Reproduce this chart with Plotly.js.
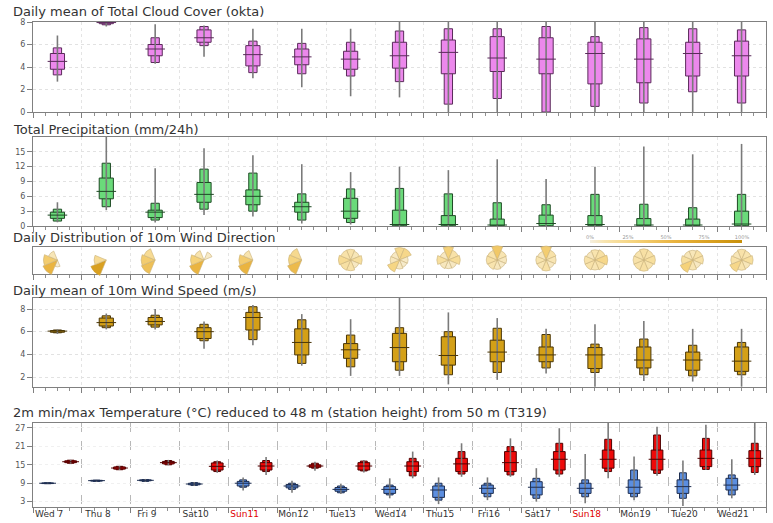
<!DOCTYPE html>
<html>
<head>
<meta charset="utf-8">
<script src="https://cdn.plot.ly/plotly-3.0.1.min.js"></script>
<style>html,body{margin:0;padding:0;background:#fff;}#chart{width:773px;height:523px;}</style>
</head>
<body>
<div id="chart"></div>
<script>
// ---------- DATA ----------
const days = ['Wed 7','Thu 8','Fri 9','Sat10','Sun11','Mon12','Tue13','Wed14','Thu15','Fri16','Sat17','Sun18','Mon19','Tue20','Wed21'];
const sundays = ['Sun11','Sun18'];

// Total cloud cover (okta): min, p10, p25, median, p75, p90, max
const cloudMin = [2.7, 7.6, 4.3, 4.9, 3.0, 2.2, 1.4, 1.3, 0, 0, 0, 0, 0, 0, 0];
const cloudP10 = [3.3, 7.75, 4.4, 5.9, 3.5, 3.4, 3.2, 2.7, 0.7, 1.2, 0, 0.5, 0.8, 1.8, 0.8];
const cloudP25 = [3.8, 7.85, 5.0, 6.2, 4.1, 4.2, 3.8, 3.9, 3.4, 3.6, 3.4, 2.5, 2.6, 3.2, 3.2];
const cloudMed = [4.5, 7.95, 5.6, 6.6, 5.1, 4.9, 4.7, 5.0, 5.3, 4.8, 4.7, 5.2, 4.7, 5.2, 5.0];
const cloudP75 = [5.2, 8.0, 6.0, 7.3, 5.9, 5.6, 5.4, 6.2, 6.4, 6.7, 6.6, 6.2, 6.5, 6.2, 6.3];
const cloudP90 = [5.7, 8.0, 6.6, 7.6, 6.3, 6.1, 6.2, 7.2, 7.4, 7.4, 7.6, 6.7, 7.5, 7.4, 7.3];
const cloudMax = [6.8, 8.0, 7.8, 7.7, 7.4, 7.4, 7.4, 8.0, 8.0, 8.0, 8.0, 8.0, 8.0, 8.0, 8.0];

// Total precipitation (mm/24h)
const precMin = [0.75, 3.2, 0.7, 2.2, 1.9, 0.5, 0.3, 0, 0, 0, 0, 0, 0, 0, 0];
const precP10 = [1.0, 3.9, 1.2, 3.4, 3.0, 1.2, 0.7, 0, 0, 0, 0, 0, 0, 0, 0];
const precP25 = [1.55, 5.5, 1.7, 4.8, 4.3, 2.8, 1.55, 0.05, 0.05, 0.05, 0.05, 0.05, 0.05, 0.05, 0.05];
const precMed = [2.2, 7.0, 2.8, 6.4, 6.0, 3.9, 3.0, 0.3, 0.3, 0.2, 0.5, 0.3, 0.2, 0.2, 0.4];
const precP75 = [2.8, 9.7, 3.2, 8.8, 7.3, 4.8, 5.6, 3.2, 2.1, 1.4, 2.2, 2.1, 1.5, 1.4, 3.0];
const precP90 = [3.4, 12.7, 4.6, 11.5, 10.7, 6.5, 7.5, 7.6, 6.5, 4.7, 4.3, 6.4, 4.4, 3.7, 6.4];
const precMax = [4.8, 18.0, 11.7, 15.7, 14.3, 12.5, 10.9, 12.0, 11.3, 13.5, 9.5, 12.0, 16.1, 14.5, 16.6];

// 10m wind direction frequency (%) per sector: N, NE, E, SE, S, SW, W, NW
const dirNames = [0, 45, 90, 135, 180, 225, 270, 315];
const windDir = [
  [0, 0, 0, 0, 2, 55, 35, 8],
  [0, 0, 0, 0, 0, 80, 20, 0],
  [0, 0, 0, 0, 0, 45, 35, 20],
  [0, 5, 0, 0, 0, 55, 30, 10],
  [0, 0, 0, 0, 0, 55, 35, 10],
  [0, 0, 0, 0, 0, 50, 28, 22],
  [12, 8, 16, 6, 12, 14, 20, 12],
  [22, 24, 5, 4, 6, 26, 7, 6],
  [30, 12, 18, 6, 5, 7, 16, 6],
  [38, 9, 7, 5, 7, 10, 13, 11],
  [34, 12, 9, 6, 13, 9, 10, 7],
  [10, 14, 24, 12, 9, 12, 12, 7],
  [14, 12, 16, 10, 14, 12, 12, 10],
  [8, 12, 12, 6, 9, 30, 15, 8],
  [12, 10, 16, 8, 10, 24, 12, 8]
];
const pctTicks = [0, 25, 50, 75, 100];
const pctLabels = ['0%', '25%', '50%', '75%', '100%'];

// 10m wind speed (m/s)
const windMin = [5.8, 6.2, 6.2, 4.5, 4.8, 3.0, 2.1, 2.1, 1.35, 1.75, 2.3, 1.15, 1.65, 1.6, 1.15];
const windP10 = [5.9, 6.35, 6.4, 5.2, 5.3, 3.2, 2.9, 2.6, 2.2, 2.4, 2.8, 2.4, 2.2, 2.1, 2.2];
const windP25 = [5.95, 6.5, 6.6, 5.4, 6.15, 3.95, 3.65, 3.35, 3.05, 3.35, 3.35, 2.75, 2.8, 2.6, 2.5];
const windMed = [6.05, 6.8, 6.9, 6.0, 7.25, 5.05, 4.4, 4.6, 3.9, 4.2, 3.95, 3.95, 3.5, 3.5, 3.4];
const windP75 = [6.1, 7.2, 7.25, 6.35, 7.7, 6.25, 4.95, 5.85, 5.55, 5.25, 4.65, 4.6, 4.65, 4.2, 4.65];
const windP90 = [6.15, 7.4, 7.45, 6.65, 8.2, 7.05, 5.7, 6.35, 6.0, 6.3, 5.75, 4.9, 5.35, 4.8, 5.05];
const windMax = [6.2, 7.6, 8.0, 6.9, 8.35, 7.55, 7.1, 9.0, 7.7, 7.2, 6.25, 6.65, 6.95, 6.25, 6.25];

// 2m minimum temperature (°C)
const tminMin = [8.8, 9.5, 9.5, 8.1, 6.6, 5.9, 5.5, 4.1, 2.2, 3.5, 3.0, 2.5, 3.5, 1.6, 4.1];
const tminP10 = [8.85, 9.6, 9.6, 8.3, 7.7, 7.0, 5.9, 5.2, 3.5, 4.6, 4.1, 4.6, 4.6, 4.1, 5.2];
const tminP25 = [8.9, 9.7, 9.8, 8.5, 8.1, 7.5, 6.4, 5.7, 4.4, 5.7, 5.2, 5.7, 5.7, 5.7, 6.8];
const tminMed = [9.0, 9.85, 9.95, 8.75, 9.0, 8.1, 7.0, 7.0, 6.8, 7.35, 7.7, 7.35, 7.7, 7.9, 8.4];
const tminP75 = [9.1, 9.95, 10.1, 9.0, 9.6, 8.6, 7.6, 7.9, 8.1, 8.4, 9.5, 9.0, 10.1, 10.1, 10.6];
const tminP90 = [9.15, 10.0, 10.2, 9.2, 10.1, 9.0, 8.1, 8.4, 9.0, 9.0, 10.6, 10.1, 13.3, 12.4, 11.7];
const tminMax = [9.2, 10.1, 10.4, 9.4, 10.9, 9.8, 8.8, 10.6, 10.9, 10.9, 13.9, 18.5, 17.7, 16.4, 16.8];

// 2m maximum temperature (°C)
const tmaxMin = [15.4, 13.3, 14.9, 12.4, 11.7, 13.1, 12.5, 10.6, 11.1, 11.1, 11.1, 10.6, 11.4, 13.3, 11.7];
const tmaxP10 = [15.5, 13.4, 15.0, 12.8, 12.8, 13.9, 13.0, 11.4, 12.0, 11.7, 12.0, 12.8, 12.2, 13.5, 12.5];
const tmaxP25 = [15.7, 13.6, 15.3, 13.3, 13.3, 14.2, 13.3, 12.8, 12.8, 12.8, 13.3, 13.9, 13.3, 14.4, 14.4];
const tmaxMed = [16.0, 13.95, 15.7, 14.5, 14.6, 14.6, 14.6, 14.6, 15.3, 15.7, 16.8, 16.8, 16.8, 17.1, 17.1];
const tmaxP75 = [16.3, 14.3, 16.1, 15.6, 15.7, 15.0, 15.7, 16.0, 17.1, 19.3, 19.3, 19.8, 19.8, 19.8, 19.6];
const tmaxP90 = [16.5, 14.5, 16.4, 16.0, 16.4, 15.5, 16.2, 17.1, 19.3, 20.9, 22.0, 23.3, 24.7, 23.6, 22.0];
const tmaxMax = [16.6, 14.6, 16.6, 16.4, 17.5, 16.0, 16.6, 19.3, 22.0, 23.6, 26.9, 28.7, 27.4, 28.0, 28.7];

// y-axis tick values
const cloudTicks = [0, 2, 4, 6, 8];
const precTicks = [0, 3, 6, 9, 12, 15];
const windTicks = [2, 4, 6, 8];
const tempTicks = [3, 9, 15, 21, 27];

// ---------- BUILD ----------
const FONT = 'DejaVu Sans, Verdana, sans-serif';
const dayIdx = days.map((d, i) => i);
const centerPos = dayIdx.map(i => i + 0.5);
const minPos = dayIdx.map(i => i + 0.3);
const maxPos = dayIdx.map(i => i + 0.77);

function boxTraces(xa, ya, pos, mn, p10, p25, med, p75, p90, mx, fill, edge, wN, wW, medSize) {
  const wx = [], wy = [];
  pos.forEach((p, i) => { wx.push(p, p, null); wy.push(mn[i], mx[i], null); });
  return [
    {type: 'scatter', mode: 'lines', x: wx, y: wy, xaxis: xa, yaxis: ya,
     line: {color: '#7a7a7a', width: 1.6}, hoverinfo: 'skip', cliponaxis: true},
    {type: 'bar', x: pos, base: p10, y: p90.map((v, i) => v - p10[i]), width: wN, xaxis: xa, yaxis: ya,
     marker: {color: fill, line: {color: edge, width: 1}}, hoverinfo: 'skip'},
    {type: 'bar', x: pos, base: p25, y: p75.map((v, i) => v - p25[i]), width: wW, xaxis: xa, yaxis: ya,
     marker: {color: fill, line: {color: edge, width: 1}}, hoverinfo: 'skip'},
    {type: 'scatter', mode: 'markers', x: pos, y: med, xaxis: xa, yaxis: ya,
     marker: {symbol: 'line-ew', size: medSize, line: {color: edge, width: 1}}, hoverinfo: 'skip', cliponaxis: true}
  ];
}

const W = 773, H = 523, ML = 33, MR = 7, MT = 22, MB = 16;
const PW = W - ML - MR, PH = H - MT - MB;
const py = (px) => (H - MB - px) / PH; // pixel y -> paper
const pxX = (px) => (px - ML) / PW;   // pixel x -> paper

let traces = [];
traces = traces.concat(boxTraces('x', 'y', centerPos, cloudMin, cloudP10, cloudP25, cloudMed, cloudP75, cloudP90, cloudMax, '#ec88ec', '#5a2a5a', 0.17, 0.29, 14));
traces = traces.concat(boxTraces('x2', 'y2', centerPos, precMin, precP10, precP25, precMed, precP75, precP90, precMax, '#6ada7a', '#1e4a24', 0.17, 0.29, 14));
// wind direction panel axes + percentage labels of the colour key (invisible marker)
traces.push({type: 'scatter', mode: 'markers', x: [null], y: [null], xaxis: 'x3', yaxis: 'y3', hoverinfo: 'skip',
  marker: {color: [0], cmin: 0, cmax: 100, opacity: 0, colorscale: [[0, 'rgba(255,255,255,0)'], [1, 'rgba(255,255,255,0)']], showscale: true,
    colorbar: {orientation: 'h', x: pxX(666), xanchor: 'center', y: py(231), yanchor: 'top',
      len: 152, lenmode: 'pixels', thickness: 1, outlinewidth: 0, xpad: 0, ypad: 0,
      tickvals: pctTicks, ticktext: pctLabels, ticks: '', ticklabelposition: 'outside',
      tickfont: {size: 5, color: '#999', family: FONT}}}});
traces = traces.concat(boxTraces('x4', 'y4', centerPos, windMin, windP10, windP25, windMed, windP75, windP90, windMax, '#d4a017', '#4a3608', 0.17, 0.29, 14));
traces = traces.concat(boxTraces('x5', 'y5', minPos, tminMin, tminP10, tminP25, tminMed, tminP75, tminP90, tminMax, '#5b8ee0', '#1e2e50', 0.14, 0.24, 12));
traces = traces.concat(boxTraces('x5', 'y5', maxPos, tmaxMin, tmaxP10, tmaxP25, tmaxMed, tmaxP75, tmaxP90, tmaxMax, '#ee0a0a', '#500000', 0.14, 0.24, 12));
// day label axis (overlay)
traces.push({type: 'scatter', x: [], y: [], xaxis: 'x6', yaxis: 'y5', hoverinfo: 'skip'});

// wind roses
const roseScale = [[0, '#f5efdf'], [0.1, '#f8e4ae'], [0.3, '#f5d27a'], [0.55, '#eab440'], [0.8, '#d9a020'], [1, '#c8900a']];

const polars = {};
windDir.forEach((freq, i) => {
  const name = i === 0 ? 'polar' : 'polar' + (i + 1);
  const cx = (i + 0.5) / 15;
  const hw = 17 / PW;
  polars[name] = {
    domain: {x: [cx - hw, cx + hw], y: [py(277), py(243)]},
    bgcolor: 'rgba(0,0,0,0)',
    angularaxis: {visible: false, rotation: 90, direction: 'clockwise'},
    radialaxis: {visible: false, range: [0, 2.95]}
  };
  traces.push({
    type: 'barpolar', subplot: name, theta: dirNames, r: freq.map(f => Math.pow(f, 0.25)), width: 45,
    marker: {color: freq, cmin: 0, cmax: 100, colorscale: roseScale,
      line: {color: '#c9b27a', width: 0.6},
      showscale: i === 0,
      colorbar: {orientation: 'h', x: pxX(666), xanchor: 'center', y: py(243), yanchor: 'bottom',
        len: 152, lenmode: 'pixels', thickness: 3, outlinewidth: 0, xpad: 0, ypad: 0,
        tickvals: pctTicks, showticklabels: false, ticks: ''}},
    hoverinfo: 'skip'
  });
});

const axLine = {showline: true, linecolor: '#808080', linewidth: 1, mirror: true, zeroline: false};
function xAx(anchor, domainY, extra) {
  return Object.assign({}, axLine, {
    anchor: anchor, domain: [0, 1], range: [0, 15],
    tickmode: 'array', tickvals: Array.from({length: 16}, (_, k) => k),
    ticks: 'outside', ticklen: 5, tickcolor: '#808080', showticklabels: false,
    minor: {dtick: 0.25, tick0: 0, ticks: 'outside', ticklen: 3, tickcolor: '#909090', showgrid: false},
    showgrid: true, gridcolor: '#e4e4e4', griddash: 'dot', gridwidth: 1
  }, extra || {});
}
function yAx(anchor, domain, range, ticks, extra) {
  return Object.assign({}, axLine, {
    anchor: anchor, domain: domain, range: range,
    tickmode: 'array', tickvals: ticks, ticks: 'outside', ticklen: 5, tickcolor: '#808080',
    tickfont: {size: 8, color: '#555', family: FONT},
    showgrid: true, gridcolor: '#e2e2e2', griddash: 'dot', gridwidth: 1
  }, extra || {});
}

const titleFont = {size: 13, color: '#333', family: FONT};
function title(text, ypx) {
  return {text: text, xref: 'paper', yref: 'paper', x: pxX(11), y: py(ypx), xanchor: 'left', yanchor: 'middle',
    showarrow: false, font: titleFont};
}

const layout = {
  width: W, height: H,
  margin: {l: ML, r: MR, t: MT, b: MB, pad: 0},
  paper_bgcolor: '#fff', plot_bgcolor: '#fff',
  showlegend: false, barmode: 'overlay', bargap: 0,
  font: {family: FONT, size: 9, color: '#444'},
  xaxis: xAx('y'),
  yaxis: yAx('x', [py(112), py(22)], [0, 8], cloudTicks),
  xaxis2: xAx('y2'),
  yaxis2: yAx('x2', [py(226), py(137)], [0, 18], precTicks),
  xaxis3: xAx('y3'),
  yaxis3: yAx('x3', [py(274), py(247)], [0, 1], [], {ticks: '', showticklabels: false, showgrid: false}),
  xaxis4: xAx('y4'),
  yaxis4: yAx('x4', [py(387), py(298)], [1.12, 8.97], windTicks),
  xaxis5: xAx('y5', null, {showgrid: true, gridcolor: '#b8b8b8', griddash: 'dash'}),
  yaxis5: yAx('x5', [py(507), py(423)], [1.27, 28.6], tempTicks, {gridcolor: '#f0f0f0'}),
  xaxis6: {overlaying: 'x5', anchor: 'y5', side: 'bottom', range: [0, 15], showline: false, zeroline: false, showgrid: false,
    tickmode: 'array', tickvals: dayIdx.map(i => i + 0.33),
    ticktext: days.map(d => sundays.includes(d) ? '<span style="color:#e00000">' + d + '</span>' : d),
    ticks: '', ticklen: 0, tickfont: {size: 9, color: '#333', family: FONT}},
  annotations: [
    title('Daily mean of Total Cloud Cover (okta)', 11),
    title('Total Precipitation (mm/24h)', 129),
    title('Daily Distribution of 10m Wind Direction', 237),
    title('Daily mean of 10m Wind Speed (m/s)', 290),
    title('2m min/max Temperature (°C) reduced to 48 m (station height) from 50 m (T319)', 412)
  ]
};
Object.assign(layout, polars);

Plotly.newPlot('chart', traces, layout, {displayModeBar: false, staticPlot: true});
</script>
</body>
</html>
